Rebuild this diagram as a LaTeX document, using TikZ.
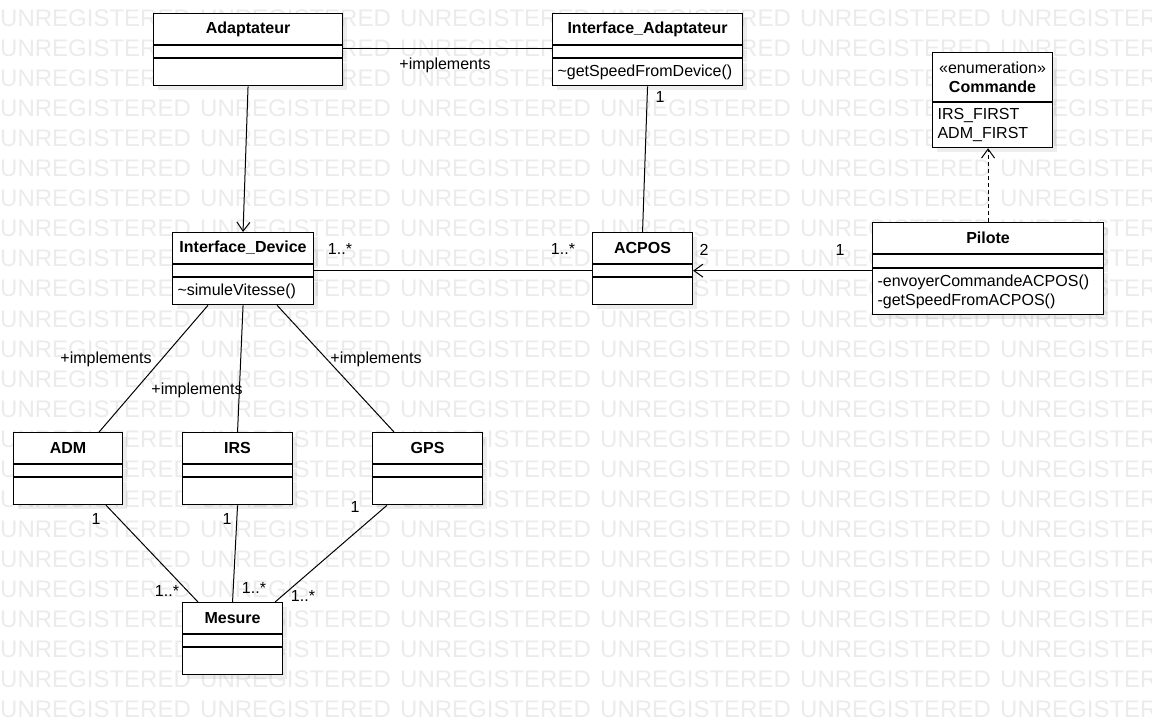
\documentclass[tikz,border=0pt]{standalone}
\usepackage{fontspec}
\setmainfont{Liberation Sans}
\usetikzlibrary{arrows.meta,shadows}

\newcommand\umlfont{\fontsize{16}{19}\selectfont}

\tikzset{
  cls/.style={draw, fill=white, line width=1.1pt, inner sep=0pt, anchor=north west, font=\umlfont,
    drop shadow={shadow xshift=4pt, shadow yshift=-4pt, fill=black, opacity=0.07}},
  clshead/.style={cls, font=\umlfont\bfseries, minimum height=31pt},
  clsattr/.style={cls, minimum height=12pt},
  clsops/.style={cls, minimum height=27pt, align=left, inner xsep=5pt},
  assoc/.style={line width=1pt},
  nav/.style={assoc, -{Straight Barb[length=9pt,width=13pt]}},
  dep/.style={nav, dash pattern=on 4pt off 3pt},
  lbl/.style={inner sep=0pt, font=\umlfont, text height=12pt, text depth=3pt},
  watermark/.style={anchor=base west, inner sep=0pt, text=black!8, font=\fontsize{24}{24}\selectfont},
}

\begin{document}
\begin{tikzpicture}[x=1pt, y=-1pt]
  \useasboundingbox (0,0) rectangle (1152,722);
  \clip (0,0) rectangle (1152,722);

  % watermark
  \foreach \r in {0,...,23}
    \foreach \c in {0,...,5}
      \node[watermark] (wm-\r-\c) at (200*\c, 27+30*\r) {UNREGISTERED};

  % classes
  \node[clshead, minimum width=189pt] (adapt) at (153,13) {Adaptateur};
  \node[clsattr, minimum width=189pt] (adapt-a) at (adapt.south west) {};
  \node[clsops, minimum width=189pt] (adapt-m) at (adapt-a.south west) {};

  \node[clshead, minimum width=190pt] (iadapt) at (552,13) {Interface\_Adaptateur};
  \node[clsattr, minimum width=190pt] (iadapt-a) at (iadapt.south west) {};
  \node[clsops, text width=180pt] (iadapt-m) at (iadapt-a.south west) {\textasciitilde getSpeedFromDevice()};

  \node[clshead, minimum width=120pt, minimum height=49pt, align=center] (cmd) at (932,52)
    {{\mdseries «enumeration»}\\Commande};
  \node[clsops, text width=110pt, minimum height=45pt] (cmd-a) at (cmd.south west) {IRS\_FIRST\\ADM\_FIRST};

  \node[clshead, minimum width=141pt] (idev) at (172,232) {Interface\_Device};
  \node[clsattr, minimum width=141pt] (idev-a) at (idev.south west) {};
  \node[clsops, text width=131pt] (idev-m) at (idev-a.south west) {\textasciitilde simuleVitesse()};

  \node[clshead, minimum width=100pt] (acpos) at (592,232) {ACPOS};
  \node[clsattr, minimum width=100pt] (acpos-a) at (acpos.south west) {};
  \node[clsops, minimum width=100pt] (acpos-m) at (acpos-a.south west) {};

  \node[clshead, minimum width=231pt] (pilote) at (872,222) {Pilote};
  \node[clsattr, minimum width=231pt, minimum height=13pt] (pilote-a) at (pilote.south west) {};
  \node[clsops, text width=221pt, minimum height=46pt] (pilote-m) at (pilote-a.south west)
    {-envoyerCommandeACPOS()\\-getSpeedFromACPOS()};

  \node[clshead, minimum width=109pt] (adm) at (13,432) {ADM};
  \node[clsattr, minimum width=109pt] (adm-a) at (adm.south west) {};
  \node[clsops, minimum width=109pt] (adm-m) at (adm-a.south west) {};

  \node[clshead, minimum width=110pt] (irs) at (182,432) {IRS};
  \node[clsattr, minimum width=110pt] (irs-a) at (irs.south west) {};
  \node[clsops, minimum width=110pt] (irs-m) at (irs-a.south west) {};

  \node[clshead, minimum width=110pt] (gps) at (372,432) {GPS};
  \node[clsattr, minimum width=110pt] (gps-a) at (gps.south west) {};
  \node[clsops, minimum width=110pt] (gps-m) at (gps-a.south west) {};

  \node[clshead, minimum width=100pt] (mesure) at (182,602) {Mesure};
  \node[clsattr, minimum width=100pt] (mesure-a) at (mesure.south west) {};
  \node[clsops, minimum width=100pt] (mesure-m) at (mesure-a.south west) {};

  % connectors
  \draw[assoc] ([yshift=3pt]adapt-a.east) -- ([yshift=3pt]iadapt-a.west);
  \draw[nav] (adapt-m.south) -- (idev.north);
  \draw[assoc] (iadapt-m.south) -- (acpos.north);
  \draw[assoc] (idev-a.east) -- (acpos-a.west);
  \draw[nav] (pilote-m.north west |- acpos-a.east) -- (acpos-a.east);
  \draw[dep] (pilote.north) -- (pilote.north |- cmd-a.south);
  \draw[assoc] ([xshift=36pt]idev-m.south west) -- ([xshift=-24pt]adm.north east);
  \draw[assoc] (idev-m.south) -- (irs.north);
  \draw[assoc] ([xshift=-37pt]idev-m.south east) -- ([xshift=22pt]gps.north west);
  \draw[assoc] ([xshift=-17pt]adm-m.south east) -- ([xshift=16pt]mesure.north west);
  \draw[assoc] (irs-m.south) -- (mesure.north);
  \draw[assoc] ([xshift=15pt]gps-m.south west) -- ([xshift=-8pt]mesure.north east);

  % labels
  \node[lbl] (imp-adapt) at (445,65) {+implements};
  \node[lbl] (imp-adm) at (106,359) {+implements};
  \node[lbl] (imp-irs) at (197,390) {+implements};
  \node[lbl] (imp-gps) at (376,359) {+implements};
  \node[lbl] (m-iadapt) at (660,98) {1};
  \node[lbl] (m-idev) at (340,250) {1..*};
  \node[lbl] (m-acpos-l) at (563,250) {1..*};
  \node[lbl] (m-acpos-r) at (704,251) {2};
  \node[lbl] (m-pilote) at (840,251) {1};
  \node[lbl] (m-adm) at (96,520) {1};
  \node[lbl] (m-mes-adm) at (167,592) {1..*};
  \node[lbl] (m-irs) at (227,520) {1};
  \node[lbl] (m-mes-irs) at (254,589) {1..*};
  \node[lbl] (m-gps) at (355,508) {1};
  \node[lbl] (m-mes-gps) at (303,597) {1..*};
\end{tikzpicture}
\end{document}
